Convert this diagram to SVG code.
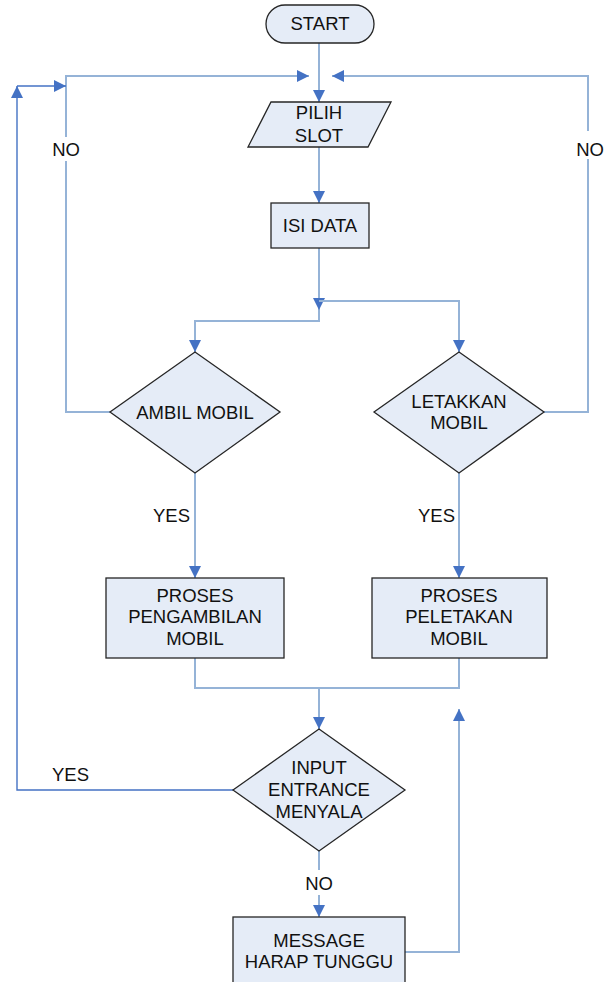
<svg xmlns="http://www.w3.org/2000/svg" width="605" height="982" viewBox="0 0 605 982">
<style>
.shape{fill:#E5ECF7;stroke:#262626;stroke-width:1.3}
.t{font-family:"Liberation Sans",Arial,sans-serif;font-size:18.5px;fill:#111;text-anchor:middle}
.lbl{font-family:"Liberation Sans",Arial,sans-serif;font-size:18.5px;fill:#111}
.c{fill:none;stroke:#95B3D7;stroke-width:2}
.cd{fill:none;stroke:#4472C4;stroke-width:1.4}
</style>
<defs>
<marker id="ah" viewBox="0 0 12 12" refX="12" refY="6" markerWidth="12" markerHeight="12" markerUnits="userSpaceOnUse" orient="auto">
<path d="M0,0 L12,6 L0,12 z" fill="#4472C4"/>
</marker>
</defs>
<rect width="605" height="982" fill="#fff"/>
<g id="connectors">
<path class="c" d="M319,43 V102" marker-end="url(#ah)"/>
<path class="c" d="M110,412 H66 V76 H309" marker-end="url(#ah)"/>
<path class="c" d="M544,412 H588 V76 H332" marker-end="url(#ah)"/>
<path class="c" d="M319,147 V203" marker-end="url(#ah)"/>
<path class="c" d="M319,248 V310" marker-end="url(#ah)"/>
<path class="c" d="M319,301 H459 V352" marker-end="url(#ah)"/>
<path class="c" d="M319,310 V321 H195 V352" marker-end="url(#ah)"/>
<path class="c" d="M195,473 V578" marker-end="url(#ah)"/>
<path class="c" d="M459,473 V578" marker-end="url(#ah)"/>
<path class="c" d="M195,658 V688 H459 V658"/>
<path class="c" d="M319,688 V729" marker-end="url(#ah)"/>
<path class="cd" d="M233,790 H17 V86" marker-end="url(#ah)"/>
<path class="cd" d="M17,86 H66" marker-end="url(#ah)"/>
<path class="c" d="M319,851 V917" marker-end="url(#ah)"/>
<path class="c" d="M405,952 H459 V709" marker-end="url(#ah)"/>
</g>
<g id="labels">
<rect x="50" y="137" width="32" height="24" fill="#fff"/>
<text class="t" x="66" y="156">NO</text>
<rect x="574" y="131" width="31" height="28" fill="#fff"/>
<text class="t" x="590" y="156">NO</text>
<text class="lbl" x="153" y="522">YES</text>
<text class="lbl" x="418" y="522">YES</text>
<text class="lbl" x="52" y="781">YES</text>
<rect x="303" y="870" width="32" height="25" fill="#fff"/>
<text class="t" x="319" y="890">NO</text>
</g>
<g id="start">
<rect class="shape" x="266" y="5" width="108" height="38" rx="19"/>
<text class="t" x="320" y="30">START</text>
</g>
<g id="pilih-slot">
<polygon class="shape" points="271,102 391,102 368,147 248,147"/>
<text class="t" x="319" y="119">PILIH</text>
<text class="t" x="319" y="142">SLOT</text>
</g>
<g id="isi-data">
<rect class="shape" x="271" y="203" width="98" height="45"/>
<text class="t" x="320" y="232">ISI DATA</text>
</g>
<g id="ambil-mobil">
<polygon class="shape" points="195,352 280,412 195,473 110,412"/>
<text class="t" x="195" y="419">AMBIL MOBIL</text>
</g>
<g id="letakkan-mobil">
<polygon class="shape" points="459,352 544,412 459,473 374,412"/>
<text class="t" x="459" y="408">LETAKKAN</text>
<text class="t" x="459" y="429">MOBIL</text>
</g>
<g id="proses-pengambilan">
<rect class="shape" x="106" y="578" width="178" height="80"/>
<text class="t" x="195" y="602">PROSES</text>
<text class="t" x="195" y="623">PENGAMBILAN</text>
<text class="t" x="195" y="645">MOBIL</text>
</g>
<g id="proses-peletakan">
<rect class="shape" x="372" y="578" width="175" height="80"/>
<text class="t" x="459" y="602">PROSES</text>
<text class="t" x="459" y="623">PELETAKAN</text>
<text class="t" x="459" y="645">MOBIL</text>
</g>
<g id="input-entrance">
<polygon class="shape" points="319,729 405,790 319,851 233,790"/>
<text class="t" x="319" y="774">INPUT</text>
<text class="t" x="319" y="796">ENTRANCE</text>
<text class="t" x="319" y="818">MENYALA</text>
</g>
<g id="message">
<rect class="shape" x="233" y="917" width="172" height="80"/>
<text class="t" x="319" y="947">MESSAGE</text>
<text class="t" x="319" y="968">HARAP TUNGGU</text>
</g>
</svg>
